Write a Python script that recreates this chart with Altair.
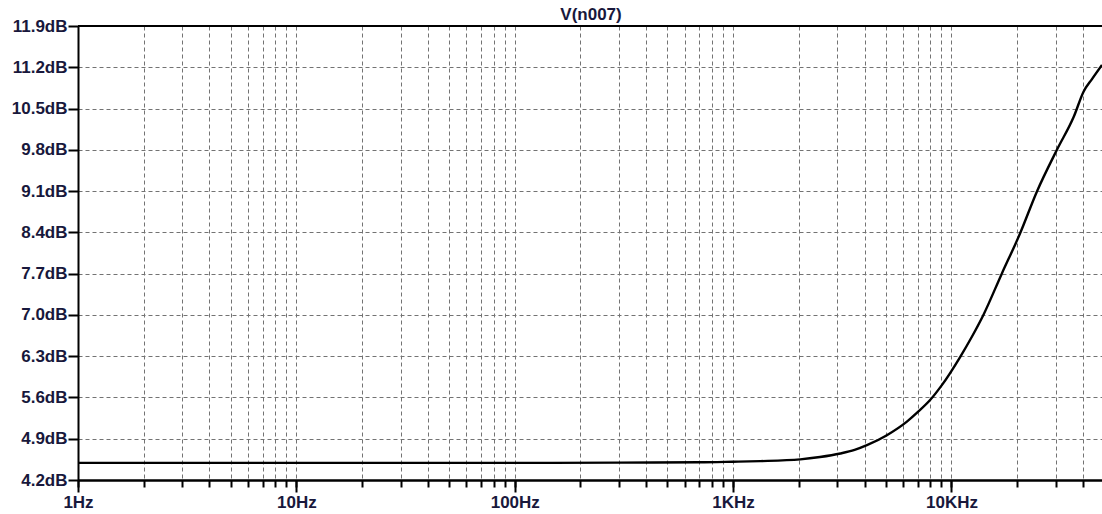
import altair as alt
import pandas as pd

# Frequency response of node n007 (magnitude in dB)
freq_hz = [1, 10, 100, 300, 700, 1000, 1330, 2030, 2500, 3100, 3600, 4100, 5060,
           6250, 7000, 8000, 9000, 10970, 12400, 14000, 17000, 20600, 24600,
           30400, 36300, 40300, 44000, 48900]
mag_db = [4.49, 4.49, 4.49, 4.495, 4.50, 4.51, 4.52, 4.55, 4.59, 4.65, 4.71, 4.79, 4.96,
          5.19, 5.35, 5.56, 5.80, 6.29, 6.63, 7.00, 7.70, 8.38, 9.09,
          9.80, 10.36, 10.79, 11.00, 11.24]

y_ticks = [4.2, 4.9, 5.6, 6.3, 7.0, 7.7, 8.4, 9.1, 9.8, 10.5, 11.2, 11.9]
decades = [1, 10, 100, 1000, 10000]
decade_labels = ["1Hz", "10Hz", "100Hz", "1KHz", "10KHz"]
minor_ticks = [k * d for d in decades for k in range(1, 10) if k * d <= 48900]
trace_name = "V(n007)"

df = pd.DataFrame({"freq": freq_hz, "db": mag_db})

LABEL_COLOR = "#18183c"
GRID_COLOR = "#737373"
FONT = "Liberation Sans"

x_scale = alt.Scale(type="log", domain=[1, 48900], nice=False)
y_scale = alt.Scale(domain=[4.2, 11.9], nice=False, zero=False)

label_expr = " : ".join(
    f"datum.value == {v} ? '{t}'" for v, t in zip(decades, decade_labels)
) + " : ''"

y_axis = alt.Axis(
    orient="left", values=y_ticks, labelExpr="format(datum.value, '.1f') + 'dB'",
    title=None, grid=True, gridColor=GRID_COLOR, gridDash=[4, 3], gridWidth=1,
    domainColor="black", domainWidth=2, tickColor="black", tickWidth=2,
    tickSize=10, labelPadding=1, labelFont=FONT, labelFontSize=17,
    labelFontWeight="bold", labelColor=LABEL_COLOR,
)

curve = alt.Chart(df).mark_line(color="black", strokeWidth=2.4, clip=True,
                                interpolate="monotone").encode(
    x=alt.X("freq:Q", scale=x_scale, axis=alt.Axis(
        orient="bottom", values=decades, labelExpr=label_expr, title=None,
        grid=False, domainColor="black", domainWidth=2, tickColor="black",
        tickWidth=2, tickSize=12, labelPadding=2, labelFont=FONT,
        labelFontSize=17, labelFontWeight="bold", labelColor=LABEL_COLOR,
        labelOverlap=False, labelFlush=False,
    )),
    y=alt.Y("db:Q", scale=y_scale, axis=y_axis),
)

minor = alt.Chart(df).mark_line(opacity=0).encode(
    x=alt.X("freq:Q", scale=x_scale, axis=alt.Axis(
        orient="bottom", values=minor_ticks, labels=False, title=None,
        grid=True, gridColor=GRID_COLOR, gridDash=[4, 3], gridWidth=1,
        domainColor="black", domainWidth=2, tickColor="black", tickWidth=2,
        tickSize=7,
    )),
    y=alt.Y("db:Q", scale=y_scale, axis=y_axis),
)

top_border = alt.Chart(df).mark_rule(color="black", strokeWidth=2).encode(
    x=alt.value(0), x2=alt.value(1024), y=alt.value(0)
)

# trace name centred above the plot area
heading = alt.Chart(pd.DataFrame({"name": [trace_name]})).mark_text(
    font=FONT, fontSize=17, fontWeight="bold", color=LABEL_COLOR,
    align="center", baseline="alphabetic",
).encode(x=alt.value(513), y=alt.value(-6), text="name:N")

chart = alt.layer(minor, curve, top_border, heading).resolve_axis(
    x="independent"
).properties(
    width=1024, height=454,
    padding={"left": 78, "top": 26, "right": 0, "bottom": 34},
    autosize=alt.AutoSizeParams(type="none"),
).configure_view(stroke=None).configure(background="white")

chart.save("out.html", embed_options={"renderer": "svg", "actions": False})
